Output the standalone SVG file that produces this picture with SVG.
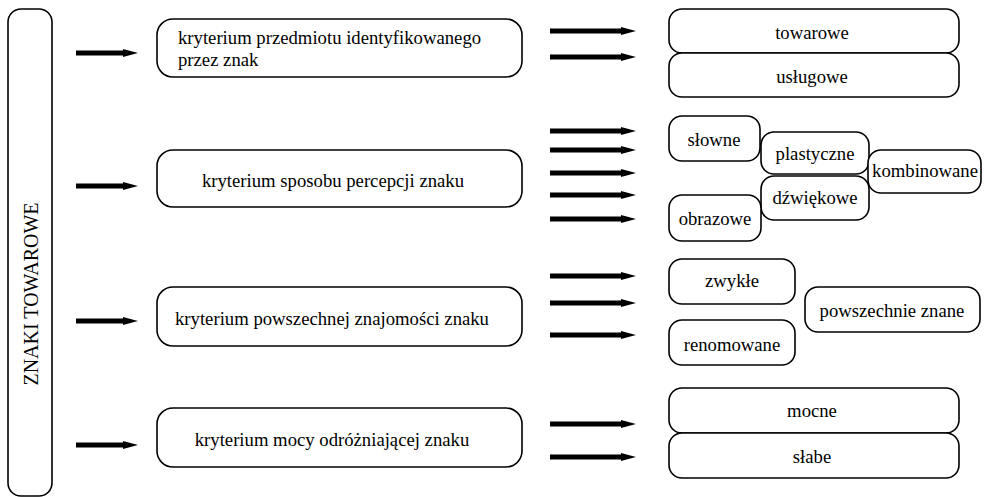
<svg xmlns="http://www.w3.org/2000/svg" width="985" height="497" viewBox="0 0 985 497">
<style>
.b{fill:#fff;stroke:#000;stroke-width:1.6}
.c{text-anchor:middle}
.a{stroke:#000;stroke-width:5;fill:none}
</style>
<defs>
<marker id="h" markerUnits="userSpaceOnUse" markerWidth="16" markerHeight="12" refX="0" refY="5" orient="auto" viewBox="0 0 16 10">
<path d="M0,1 L15,5 L0,9 Z" fill="#000"/>
</marker>
</defs>
<g font-family="Liberation Serif, Times New Roman, serif" font-size="18.7" fill="#000">
<g id="root"><rect class="b" x="8" y="9" width="44" height="487" rx="13"/>
<text class="c" font-size="20" transform="translate(38,294) rotate(-90)">ZNAKI TOWAROWE</text></g>
<g id="connectors">
<line class="a" x1="76" y1="53" x2="123" y2="53" marker-end="url(#h)"/>
<line class="a" x1="76" y1="186" x2="123" y2="186" marker-end="url(#h)"/>
<line class="a" x1="76" y1="321" x2="123" y2="321" marker-end="url(#h)"/>
<line class="a" x1="76" y1="445" x2="123" y2="445" marker-end="url(#h)"/>
<line class="a" x1="550" y1="31" x2="621" y2="31" marker-end="url(#h)"/>
<line class="a" x1="550" y1="57" x2="621" y2="57" marker-end="url(#h)"/>
<line class="a" x1="550" y1="131" x2="621" y2="131" marker-end="url(#h)"/>
<line class="a" x1="550" y1="150" x2="621" y2="150" marker-end="url(#h)"/>
<line class="a" x1="550" y1="173" x2="621" y2="173" marker-end="url(#h)"/>
<line class="a" x1="550" y1="195" x2="621" y2="195" marker-end="url(#h)"/>
<line class="a" x1="550" y1="219" x2="621" y2="219" marker-end="url(#h)"/>
<line class="a" x1="550" y1="276" x2="621" y2="276" marker-end="url(#h)"/>
<line class="a" x1="550" y1="303" x2="621" y2="303" marker-end="url(#h)"/>
<line class="a" x1="550" y1="335" x2="621" y2="335" marker-end="url(#h)"/>
<line class="a" x1="550" y1="424" x2="621" y2="424" marker-end="url(#h)"/>
<line class="a" x1="550" y1="457" x2="621" y2="457" marker-end="url(#h)"/>
</g>
<g id="k1"><rect class="b" x="157" y="19" width="365" height="58" rx="16"/>
<text x="178" y="44">kryterium przedmiotu identyfikowanego</text>
<text x="178" y="66">przez znak</text></g>
<g id="k2"><rect class="b" x="157" y="150" width="365" height="57" rx="16"/>
<text class="c" x="333" y="187">kryterium sposobu percepcji znaku</text></g>
<g id="k3"><rect class="b" x="157" y="287" width="365" height="59" rx="16"/>
<text class="c" x="332" y="325">kryterium powszechnej znajomości znaku</text></g>
<g id="k4"><rect class="b" x="157" y="408" width="365" height="59" rx="16"/>
<text class="c" x="332" y="446">kryterium mocy odróżniającej znaku</text></g>
<g id="towarowe"><rect class="b" x="669" y="9" width="290" height="44" rx="13"/>
<text class="c" x="812" y="39">towarowe</text></g>
<g id="uslugowe"><rect class="b" x="669" y="53" width="290" height="44" rx="13"/>
<text class="c" x="812" y="83">usługowe</text></g>
<g id="slowne"><rect class="b" x="669" y="116" width="91" height="45" rx="13"/>
<text class="c" x="714" y="146">słowne</text></g>
<g id="plastyczne"><rect class="b" x="761" y="132" width="108" height="42" rx="13"/>
<text class="c" x="815" y="160">plastyczne</text></g>
<g id="kombinowane"><rect class="b" x="868" y="150" width="113" height="43" rx="13"/>
<text class="c" x="925" y="177">kombinowane</text></g>
<g id="dzwiekowe"><rect class="b" x="761" y="176" width="108" height="44" rx="13"/>
<text class="c" x="815" y="204">dźwiękowe</text></g>
<g id="obrazowe"><rect class="b" x="669" y="195" width="92" height="46" rx="13"/>
<text class="c" x="715" y="225">obrazowe</text></g>
<g id="zwykle"><rect class="b" x="669" y="259" width="126" height="45" rx="13"/>
<text class="c" x="732" y="287">zwykłe</text></g>
<g id="renomowane"><rect class="b" x="669" y="320" width="126" height="45" rx="13"/>
<text class="c" x="732" y="351">renomowane</text></g>
<g id="powszechnie"><rect class="b" x="805" y="287" width="175" height="45" rx="13"/>
<text class="c" x="892" y="317">powszechnie znane</text></g>
<g id="mocne"><rect class="b" x="669" y="388" width="290" height="45" rx="13"/>
<text class="c" x="812" y="417">mocne</text></g>
<g id="slabe"><rect class="b" x="669" y="433" width="290" height="45" rx="13"/>
<text class="c" x="812" y="463">słabe</text></g>
</g>
</svg>
